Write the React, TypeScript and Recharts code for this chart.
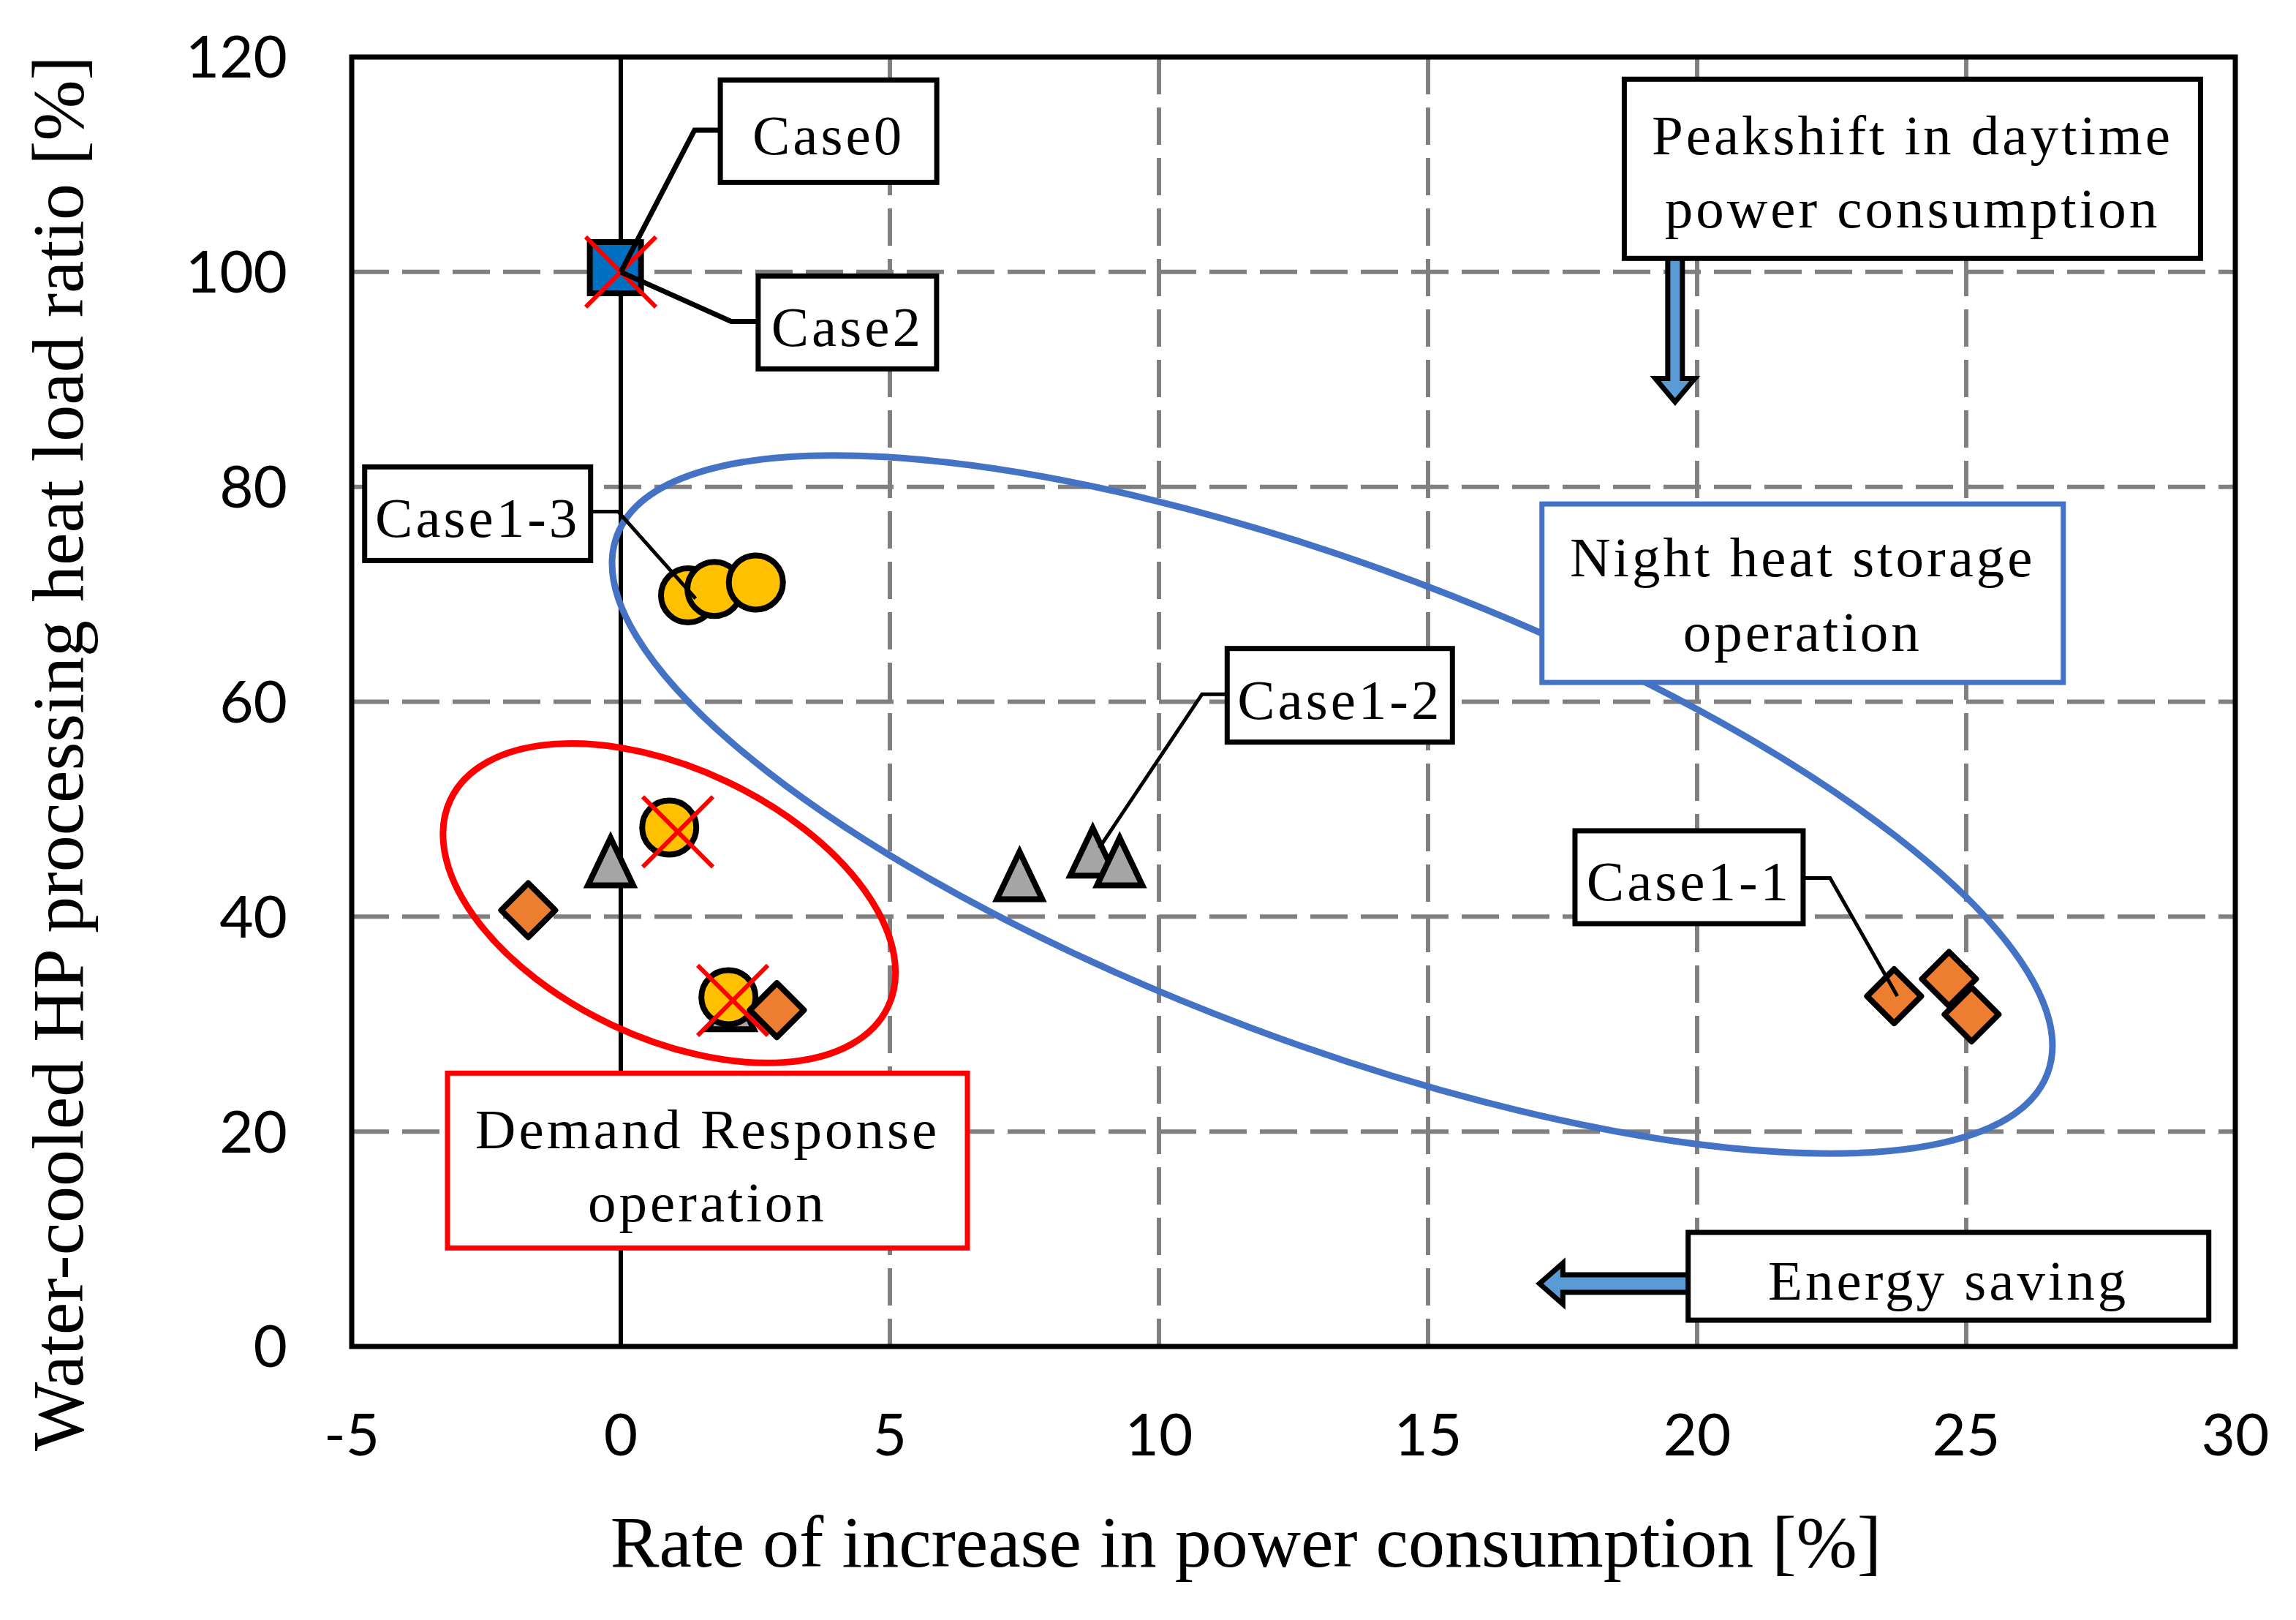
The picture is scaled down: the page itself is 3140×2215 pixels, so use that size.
import React from 'react';
import { ScatterChart, Scatter, XAxis, YAxis, CartesianGrid } from 'recharts';

const FONT = '"Liberation Serif", "Times New Roman", serif';
const TICK_FONT = 'Lato, "Open Sans", sans-serif';

// ---------------- data ----------------
const xTicks = [-5, 0, 5, 10, 15, 20, 25, 30];
const yTicks = [0, 20, 40, 60, 80, 100, 120];

// Case1-1 (orange diamonds)
const case11X = [23.66, 24.68, 25.1];
const case11Y = [32.6, 34.2, 30.9];
// Case1-2 (grey triangles)
const case12X = [7.41, 8.77, 9.27];
const case12Y = [44.0, 46.2, 45.3];
// Case1-3 (yellow circles)
const case13X = [1.25, 1.74, 2.51];
const case13Y = [69.9, 70.5, 71.1];
// Demand-response points
const drTriangleX = [-0.19, 2.05];
const drTriangleY = [45.3, 31.9];
const drCircleX = [0.9, 2.0];
const drCircleY = [48.3, 32.5];
const drDiamondX = [-1.72, 2.9];
const drDiamondY = [40.6, 31.3];
// Case0 (blue square)
const case0X = [-0.1];
const case0Y = [100.4];
// Case2 (red crosses)
const crossX = [0, 1.06, 2.08];
const crossY = [100, 47.9, 32.2];

// callout boxes (anchor in data units)
const calloutText = ['Case0', 'Case2', 'Case1-3', 'Case1-2', 'Case1-1'];
const calloutX = [3.86, 4.21, -2.66, 13.36, 19.85];
const calloutY = [113.1, 95.3, 77.5, 60.6, 43.67];

// leader lines (data units)
const leaderX = [
  [1.85, 1.37, 0],
  [2.55, 2.05, 0],
  [-0.56, -0.05, 1.39],
  [11.26, 10.8, 8.89],
  [21.98, 22.47, 23.72],
];
const leaderY = [
  [113.2, 113.2, 100],
  [95.4, 95.4, 100],
  [77.7, 77.7, 69.6],
  [60.7, 60.7, 46.4],
  [43.6, 43.6, 32.6],
];

// note boxes
const noteLines = [
  ['Peakshift in daytime', 'power consumption'],
  ['Night heat storage', 'operation'],
  ['Demand Response', 'operation'],
  ['Energy saving'],
];
const noteX = [24.0, 21.96, 1.61, 24.67];
const noteY = [109.6, 70.1, 17.3, 6.53];

// arrows (tip position)
const arrowX = [19.59, 17.07];
const arrowY = [87.9, 5.85];

// ellipses (centre)
const ringX = [13.22, 0.9];
const ringY = [50.44, 41.25];

// ---------------- styles ----------------
const W = 3124;
const H = 2199;
const calloutSize = [
  [296, 140],
  [244, 127],
  [309, 128],
  [308, 128],
  [312, 127],
];
const noteStyle = [
  { w: 788, h: 245, color: '#000000', sw: 7, dy: [-20, 80] },
  { w: 713, h: 244, color: '#4472C4', sw: 7, dy: [-23, 79] },
  { w: 711, h: 239, color: '#FF0000', sw: 7, dy: [-17, 83] },
  { w: 712, h: 120, color: '#000000', sw: 7, dy: [32] },
];
const ringStyle = [
  { rx: 1045, ry: 325, angle: 20.6, color: '#4472C4', sw: 9 },
  { rx: 331, ry: 184, angle: 25.3, color: '#FF0000', sw: 9 },
];
const arrowStyle = [
  { dir: 'down', len: 197, hl: 32, hw: 27, sw: 10, stroke: 7 },
  { dir: 'left', len: 204, hl: 32, hw: 28, sw: 12, stroke: 7 },
];

const pts = (xs: number[], ys: number[]) => xs.map((x, i) => ({ x, y: ys[i] }));

const NoShape = () => <g />;

const MARK_SW = 8;

const CircleMark = (p: any) => (
  <circle cx={p.cx} cy={p.cy} r={37} fill="#FFC000" stroke="#000" strokeWidth={MARK_SW} />
);
const DiamondMark = (p: any) => (
  <path
    d={`M${p.cx},${p.cy - 37} L${p.cx + 37},${p.cy} L${p.cx},${p.cy + 37} L${p.cx - 37},${p.cy} Z`}
    fill="#ED7D31"
    stroke="#000"
    strokeWidth={MARK_SW}
    strokeLinejoin="round"
  />
);
const TriangleMark = (p: any) => (
  <path
    d={`M${p.cx},${p.cy - 30} L${p.cx + 31},${p.cy + 35} L${p.cx - 31},${p.cy + 35} Z`}
    fill="#A5A5A5"
    stroke="#000"
    strokeWidth={MARK_SW}
  />
);
const SquareMark = (p: any) => (
  <rect x={p.cx - 35} y={p.cy - 35} width={70} height={70} fill="#0070C0" stroke="#000" strokeWidth={MARK_SW} />
);
const CrossMark = (p: any) => (
  <g stroke="#FF0000" strokeWidth={6}>
    <line x1={p.cx - 48} y1={p.cy - 48} x2={p.cx + 48} y2={p.cy + 48} />
    <line x1={p.cx - 48} y1={p.cy + 48} x2={p.cx + 48} y2={p.cy - 48} />
  </g>
);

const makeCallout = (i: number) => (p: any) => {
  const [w, h] = calloutSize[i];
  return (
    <g>
      <rect x={p.cx - w / 2} y={p.cy - h / 2} width={w} height={h} fill="#fff" stroke="#000" strokeWidth={7} />
      <text x={p.cx} y={p.cy + 32} textAnchor="middle" fontFamily={FONT} fontSize={77} letterSpacing={4} fill="#000">
        {calloutText[i]}
      </text>
    </g>
  );
};

const makeNote = (i: number) => (p: any) => {
  const s = noteStyle[i];
  return (
    <g>
      <rect x={p.cx - s.w / 2} y={p.cy - s.h / 2} width={s.w} height={s.h} fill="#fff" stroke={s.color} strokeWidth={s.sw} />
      {noteLines[i].map((t, k) => (
        <text key={k} x={p.cx} y={p.cy + s.dy[k]} textAnchor="middle" fontFamily={FONT} fontSize={77} letterSpacing={4} fill="#000">
          {t}
        </text>
      ))}
    </g>
  );
};

const makeRing = (i: number) => (p: any) => {
  const s = ringStyle[i];
  return (
    <ellipse
      cx={p.cx}
      cy={p.cy}
      rx={s.rx}
      ry={s.ry}
      transform={`rotate(${s.angle} ${p.cx} ${p.cy})`}
      fill="none"
      stroke={s.color}
      strokeWidth={s.sw}
    />
  );
};

const makeArrow = (i: number) => (p: any) => {
  const s = arrowStyle[i];
  const { cx, cy } = p;
  let d = '';
  if (s.dir === 'down') {
    d = `M${cx},${cy} L${cx - s.hw},${cy - s.hl} L${cx - s.sw},${cy - s.hl} L${cx - s.sw},${cy - s.len} L${cx + s.sw},${cy - s.len} L${cx + s.sw},${cy - s.hl} L${cx + s.hw},${cy - s.hl} Z`;
  } else {
    d = `M${cx},${cy} L${cx + s.hl},${cy - s.hw} L${cx + s.hl},${cy - s.sw} L${cx + s.len},${cy - s.sw} L${cx + s.len},${cy + s.sw} L${cx + s.hl},${cy + s.sw} L${cx + s.hl},${cy + s.hw} Z`;
  }
  return <path d={d} fill="#5B9BD5" stroke="#000" strokeWidth={s.stroke} />;
};

const frame = pts([-5, -5, 30, 30, -5], [0, 120, 120, 0, 0]);
const zeroLine = pts([0, 0], [0, 120]);

const tickStyle = { fontFamily: TICK_FONT, fontSize: 80, fill: '#000' };

export default function App() {
  return (
    <div style={{ position: 'relative', width: W, height: H }}>
      <ScatterChart width={W} height={H} margin={{ top: 70, right: 75, bottom: 216, left: 273 }}>
        <CartesianGrid stroke="#808080" strokeWidth={6} strokeDasharray="51 18" />
        <XAxis
          type="number"
          dataKey="x"
          domain={[-5, 30]}
          ticks={xTicks}
          interval={0}
          height={150}
          axisLine={false}
          tickLine={false}
          tickSize={0}
          tickMargin={92}
          tick={tickStyle}
        />
        <YAxis
          type="number"
          dataKey="y"
          domain={[0, 120]}
          ticks={yTicks}
          interval={0}
          width={200}
          axisLine={false}
          tickLine={false}
          tickSize={0}
          tickMargin={88}
          tick={tickStyle}
        />
        <Scatter data={zeroLine} shape={NoShape} line={{ stroke: '#000', strokeWidth: 6 }} lineType="joint" isAnimationActive={false} />
        {ringX.map((x, i) => (
          <Scatter key={`ring${i}`} data={[{ x, y: ringY[i] }]} shape={makeRing(i)} isAnimationActive={false} />
        ))}
        <Scatter data={pts(case12X, case12Y)} shape={TriangleMark} isAnimationActive={false} />
        <Scatter data={pts(drTriangleX, drTriangleY)} shape={TriangleMark} isAnimationActive={false} />
        <Scatter data={pts(case13X, case13Y)} shape={CircleMark} isAnimationActive={false} />
        <Scatter data={pts(drCircleX, drCircleY)} shape={CircleMark} isAnimationActive={false} />
        <Scatter data={pts(case11X, case11Y)} shape={DiamondMark} isAnimationActive={false} />
        <Scatter data={pts(drDiamondX, drDiamondY)} shape={DiamondMark} isAnimationActive={false} />
        <Scatter data={pts(case0X, case0Y)} shape={SquareMark} isAnimationActive={false} />
        <Scatter data={pts(crossX, crossY)} shape={CrossMark} isAnimationActive={false} />
        {leaderX.map((xs, i) => (
          <Scatter
            key={`lead${i}`}
            data={pts(xs, leaderY[i])}
            shape={NoShape}
            line={{ stroke: '#000', strokeWidth: i < 2 ? 7 : 5 }}
            lineType="joint"
            isAnimationActive={false}
          />
        ))}
        {calloutX.map((x, i) => (
          <Scatter key={`call${i}`} data={[{ x, y: calloutY[i] }]} shape={makeCallout(i)} isAnimationActive={false} />
        ))}
        {arrowX.map((x, i) => (
          <Scatter key={`arr${i}`} data={[{ x, y: arrowY[i] }]} shape={makeArrow(i)} isAnimationActive={false} />
        ))}
        {noteX.map((x, i) => (
          <Scatter key={`note${i}`} data={[{ x, y: noteY[i] }]} shape={makeNote(i)} isAnimationActive={false} />
        ))}
        <Scatter data={frame} shape={NoShape} line={{ stroke: '#000', strokeWidth: 7, strokeLinecap: 'square' }} lineType="joint" isAnimationActive={false} />
      </ScatterChart>
      <svg width={W} height={H} style={{ position: 'absolute', left: 0, top: 0, pointerEvents: 'none' }}>
        <text x={1696} y={2134} textAnchor="middle" fontFamily={FONT} fontSize={100} fill="#000">
          Rate of increase in power consumption [%]
        </text>
        <text
          x={105}
          y={1022}
          transform="rotate(-90 105 1022)"
          textAnchor="middle"
          fontFamily={FONT}
          fontSize={100}
          fill="#000"
        >
          Water-cooled HP processing heat load ratio [%]
        </text>
      </svg>
    </div>
  );
}
